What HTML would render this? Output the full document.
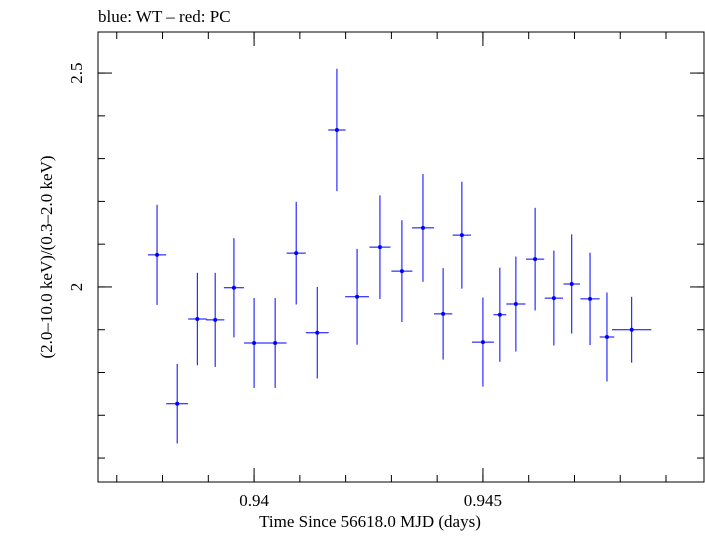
<!DOCTYPE html>
<html><head><meta charset="utf-8"><style>
body{margin:0;background:#fff;}
svg text{font-family:"Liberation Serif",serif;fill:#000;}
</style></head><body>
<svg id="c" width="705" height="532" xmlns="http://www.w3.org/2000/svg">
<text x="98" y="22" font-size="17">blue: WT – red: PC</text>
<rect x="98" y="32" width="606" height="450" fill="none" stroke="#000" stroke-width="1"/>
<text x="370" y="527" font-size="17" text-anchor="middle">Time Since 56618.0 MJD (days)</text>
<text transform="translate(52,257) rotate(-90)" font-size="17" text-anchor="middle">(2.0–10.0 keV)/(0.3–2.0 keV)</text>
<g id="axes"></g><g id="marks"></g>
</svg>
<script>
const times=[0.93788,0.93832,0.93876,0.93915,0.93956,0.94,0.94046,0.94092,0.94138,0.94181,0.94225,0.94275,0.94323,0.94369,0.94413,0.94454,0.945,0.94537,0.94572,0.94614,0.94655,0.94694,0.94734,0.94771,0.94825];
const timeErr=[0.0002,0.00024,0.0002,0.0002,0.00022,0.00022,0.00025,0.00021,0.00025,0.00019,0.00026,0.00023,0.00023,0.00024,0.0002,0.0002,0.00024,0.00014,0.00021,0.0002,0.0002,0.00018,0.00021,0.00016,0.00043];
const ratios=[2.075,1.727,1.925,1.923,1.998,1.869,1.869,2.079,1.893,2.367,1.977,2.093,2.037,2.138,1.937,2.121,1.871,1.935,1.960,2.065,1.974,2.007,1.972,1.883,1.900];
const ratioErr=[0.117,0.093,0.108,0.11,0.116,0.105,0.105,0.12,0.107,0.143,0.112,0.121,0.119,0.126,0.107,0.125,0.104,0.11,0.111,0.12,0.111,0.116,0.108,0.104,0.077];
const xTicks=[0.94,0.945];
const xTickLabels=["0.94","0.945"];
const yTicks=[2,2.5];
const yTickLabels=["2","2.5"];
const L=98,R=704,T=32,B=482,x0=0.93659,x1=0.94983,y0=1.544,y1=2.596;
const X=v=>L+(v-x0)/(x1-x0)*(R-L);
const Y=v=>B-(v-y0)/(y1-y0)*(B-T);
const NS="http://www.w3.org/2000/svg";
const ax=document.getElementById('axes'),mk=document.getElementById('marks');
function ln(p,a,b,c,d,col,name){const e=document.createElementNS(NS,'line');e.setAttribute('x1',a);e.setAttribute('y1',b);e.setAttribute('x2',c);e.setAttribute('y2',d);e.setAttribute('stroke',col);e.setAttribute('stroke-width',1);


p.appendChild(e);return e;}
function tx(s,x,y,anc,rot,name){const e=document.createElementNS(NS,'text');e.textContent=s;e.setAttribute('x',x);e.setAttribute('y',y);e.setAttribute('font-size','17');e.setAttribute('text-anchor',anc);if(rot)e.setAttribute('transform',`rotate(-90 ${x} ${y})`);


ax.appendChild(e);}
for(let v=0.937;v<=0.9495;v+=0.001){const px=X(v);ln(ax,px,B,px,B-7,'#000','x-minor-tick');ln(ax,px,T,px,T+7,'#000','x-minor-tick-top');}
xTicks.forEach((v,i)=>{const px=X(v);ln(ax,px,B,px,B-14,'#000','x-major-tick');ln(ax,px,T,px,T+14,'#000','x-major-tick-top');tx(xTickLabels[i],px,506,'middle',false,'x-tick-label');});
for(let v=1.6;v<=2.59;v+=0.1){const py=Y(v);ln(ax,L,py,L+7,py,'#000','y-minor-tick');ln(ax,R,py,R-7,py,'#000','y-minor-tick-right');}
yTicks.forEach((v,i)=>{const py=Y(v);ln(ax,L,py,L+14,py,'#000','y-major-tick');ln(ax,R,py,R-14,py,'#000','y-major-tick-right');tx(yTickLabels[i],82,py,'middle',true,'y-tick-label');});
times.forEach((t,i)=>{
 const cx=X(t),cy=Y(ratios[i]);
 ln(mk,X(t-timeErr[i]),cy,X(t+timeErr[i]),cy,'#0000ff','x-error-bar');
 ln(mk,cx,Y(ratios[i]-ratioErr[i]),cx,Y(ratios[i]+ratioErr[i]),'#0000ff','y-error-bar');
 const c=document.createElementNS(NS,'circle');c.setAttribute('cx',cx);c.setAttribute('cy',cy);c.setAttribute('r',2);c.setAttribute('fill','#0000ff');
 
 
 mk.appendChild(c);
});
</script>
</body></html>
